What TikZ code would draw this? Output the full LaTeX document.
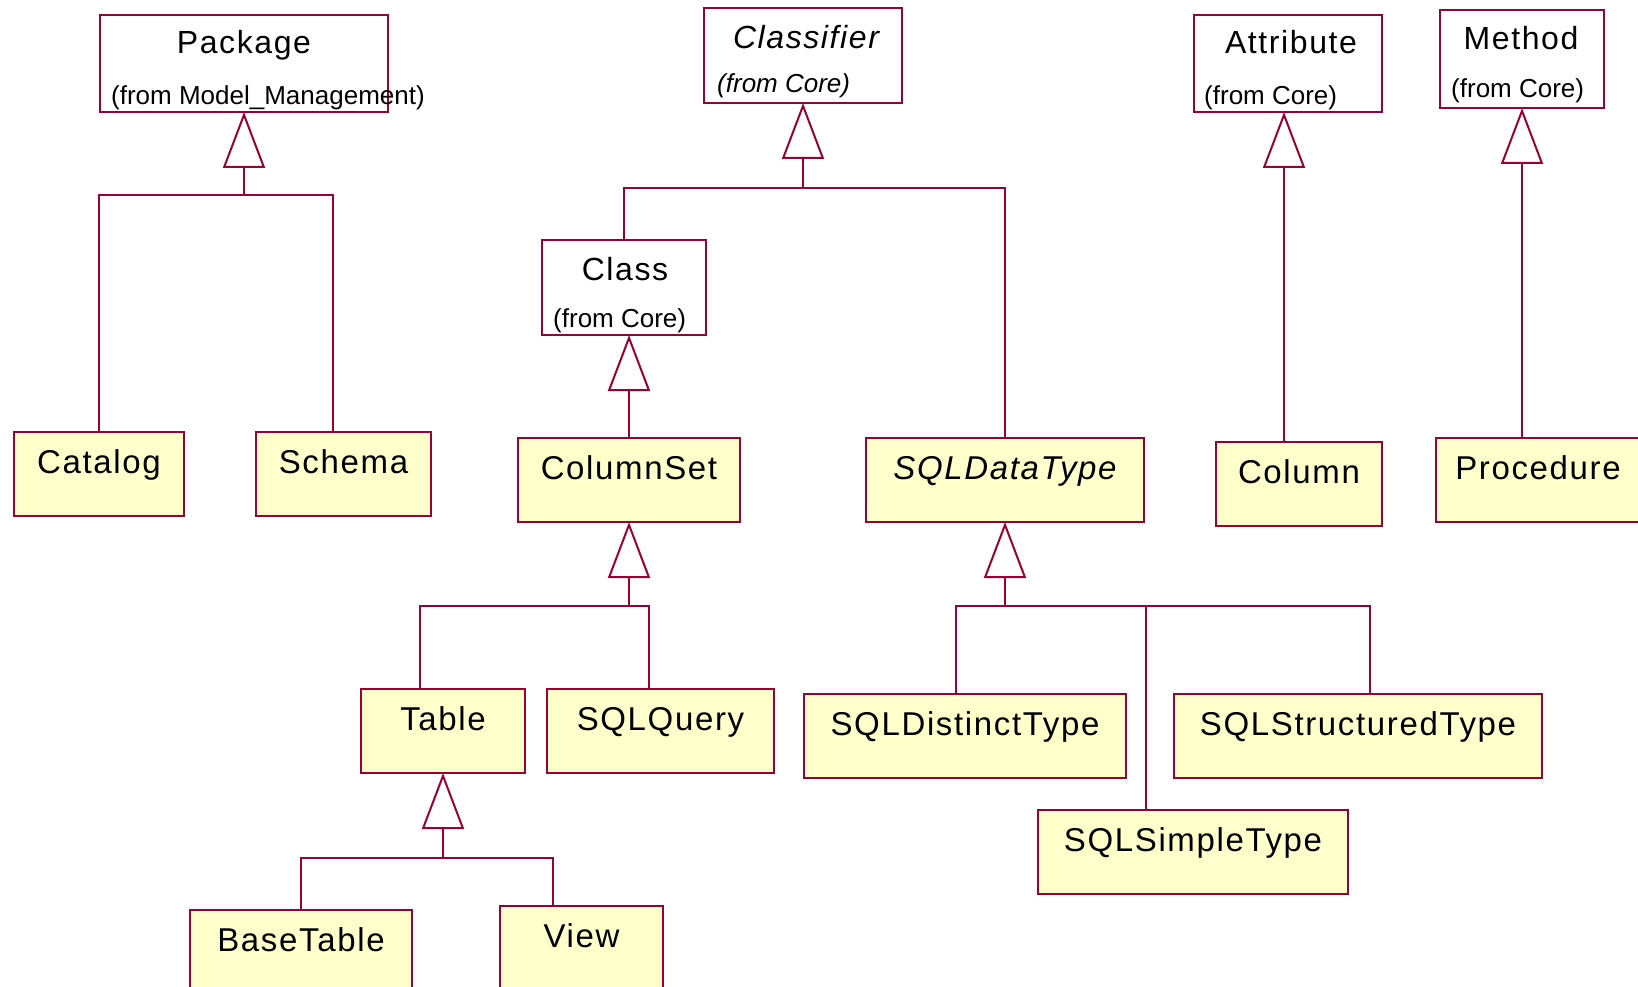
\documentclass[tikz,border=0pt]{standalone}
\usepackage{fontspec}
\usetikzlibrary{arrows.meta}
\newfontfamily\umlfont[LetterSpace=5.0]{Liberation Sans}
\newfontfamily\fromfont{Liberation Sans}
\definecolor{umlred}{RGB}{153,0,51}
\definecolor{umlfill}{RGB}{255,255,204}

\begin{document}
\begin{tikzpicture}[
    x=1pt, y=-1pt,
    classbox/.style={draw=umlred, fill=umlfill, line width=2pt, anchor=north west, inner sep=0pt, outer sep=0pt,
        text height=41pt, text depth=43pt, font=\umlfont\fontsize{33}{38}\selectfont},
    pkgbox/.style={draw=umlred, fill=white, line width=2pt, anchor=north west, inner sep=0pt, outer sep=0pt},
    headtxt/.style={anchor=base, inner sep=0pt, font=\umlfont\fontsize{32}{38}\selectfont},
    fromtxt/.style={anchor=base west, inner sep=0pt, font=\fromfont\fontsize{26}{30}\selectfont},
    link/.style={draw=umlred, line width=2pt},
    genlink/.style={link, -{Triangle[open, length=56pt, width=42pt]}}
]
\useasboundingbox (0,0) rectangle (1638,987);
\fill[white] (0,0) rectangle (1638,987);

% packages from other models
\node[pkgbox, minimum width=288pt, minimum height=97pt] (Package) at (100,15) {};
\node[headtxt] (PackageName) at (244,54) {Package};
\node[fromtxt] (PackageFrom) at (111,105) {(from Model\_Management)};

\node[pkgbox, minimum width=198pt, minimum height=95pt] (Classifier) at (704,8) {};
\node[headtxt] (ClassifierName) at (806,49) {\itshape Classifier};
\node[fromtxt] (ClassifierFrom) at (717,93) {\itshape (from Core)};

\node[pkgbox, minimum width=188pt, minimum height=97pt] (Attribute) at (1194,15) {};
\node[headtxt] (AttributeName) at (1291,54) {Attribute};
\node[fromtxt] (AttributeFrom) at (1204,105) {(from Core)};

\node[pkgbox, minimum width=164pt, minimum height=98pt] (Method) at (1440,10) {};
\node[headtxt] (MethodName) at (1521,50) {Method};
\node[fromtxt] (MethodFrom) at (1451,98) {(from Core)};

\node[pkgbox, minimum width=164pt, minimum height=95pt] (Class) at (542,240) {};
\node[headtxt] (ClassName) at (625,280) {Class};
\node[fromtxt] (ClassFrom) at (553,327) {(from Core)};

% sql classes
\node[classbox, minimum width=170pt] (Catalog) at (14,432) {Catalog};
\node[classbox, minimum width=175pt] (Schema) at (256,432) {Schema};
\node[classbox, minimum width=222pt] (ColumnSet) at (518,438) {ColumnSet};
\node[classbox, minimum width=278pt] (SQLDataType) at (866,438) {\itshape SQLDataType};
\node[classbox, minimum width=166pt] (Column) at (1216,442) {Column};
\node[classbox, minimum width=204pt] (Procedure) at (1436,438) {Procedure};

\node[classbox, minimum width=164pt] (Table) at (361,689) {Table};
\node[classbox, minimum width=227pt] (SQLQuery) at (547,689) {SQLQuery};
\node[classbox, minimum width=322pt] (SQLDistinctType) at (804,694) {SQLDistinctType};
\node[classbox, minimum width=368pt] (SQLStructuredType) at (1174,694) {SQLStructuredType};
\node[classbox, minimum width=310pt] (SQLSimpleType) at (1038,810) {SQLSimpleType};

\node[classbox, minimum width=222pt] (BaseTable) at (190,910) {BaseTable};
\node[classbox, minimum width=163pt] (View) at (500,906) {View};

% generalisations
\coordinate (PackageJ) at (Package.south |- 0,195);
\draw[genlink] (PackageJ) -- (Package.south);
\draw[link] (Catalog.north) |- (PackageJ);
\draw[link] ([xshift=-11pt]Schema.north) |- (PackageJ);

\coordinate (ClassifierJ) at (Classifier.south |- 0,188);
\draw[genlink] (ClassifierJ) -- (Classifier.south);
\draw[link] (Class.north) |- (ClassifierJ);
\draw[link] (SQLDataType.north) |- (ClassifierJ);

\draw[genlink] (ColumnSet.north) -- (ColumnSet.north |- Class.south);
\draw[genlink] ([xshift=-15pt]Column.north) -- ([xshift=-15pt]Column.north |- Attribute.south);
\draw[genlink] (Method.south |- Procedure.north) -- (Method.south);

\coordinate (ColumnSetJ) at (ColumnSet.south |- 0,606);
\draw[genlink] (ColumnSetJ) -- (ColumnSet.south);
\draw[link] ([xshift=-23pt]Table.north) |- (ColumnSetJ);
\draw[link] ([xshift=-12pt]SQLQuery.north) |- (ColumnSetJ);

\coordinate (SQLDataTypeJ) at (SQLDataType.south |- 0,606);
\draw[genlink] (SQLDataTypeJ) -- (SQLDataType.south);
\draw[link] ([xshift=-9pt]SQLDistinctType.north) |- (SQLDataTypeJ);
\draw[link] ([xshift=-47pt]SQLSimpleType.north) |- (SQLDataTypeJ);
\draw[link] ([xshift=12pt]SQLStructuredType.north) |- (SQLDataTypeJ);

\coordinate (TableJ) at (Table.south |- 0,858);
\draw[genlink] (TableJ) -- (Table.south);
\draw[link] (BaseTable.north) |- (TableJ);
\draw[link] ([xshift=-29pt]View.north) |- (TableJ);

\end{tikzpicture}
\end{document}
